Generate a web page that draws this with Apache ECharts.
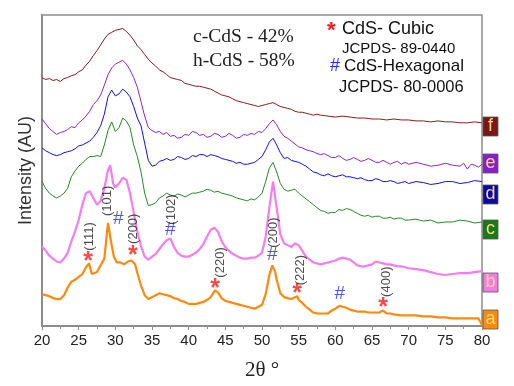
<!DOCTYPE html>
<html><head><meta charset="utf-8">
<script src="https://cdn.jsdelivr.net/npm/echarts@6/dist/echarts.min.js"></script>
<style>html,body{margin:0;padding:0;background:#fff}#c{width:514px;height:386px}</style>
</head><body><div id="c"></div>
<script>
// 2θ (degrees) and stacked intensity (arbitrary units, offset per sample)
const seriesNames = ['a','b','c','d','e','f'];
const seriesColors = ['#ff8a0a','#f77cf2','#268a26','#1010e6','#9022d6','#8a1c1c'];
const xTicks = [20,25,30,35,40,45,50,55,60,65,70,75,80];

const sampleF = [[20,258],[20.5,256],[21,257],[21.5,255],[22,256],[22.5,254],[23,257],[23.5,258],[24,260],[24.5,261],[25,264],[25.5,266],[26,271],[26.5,275],[27,281],[27.5,286],[28,292],[28.5,298],[29,303],[29.5,305],[30,307],[30.5,308],[31,309],[31.5,306],[32,302],[32.5,297],[33,291],[33.5,287],[34,282],[34.5,277],[35,273],[35.5,270],[36,266],[36.5,264],[37,261],[37.5,258],[38,257],[38.5,256],[39,255],[39.5,252],[40,251],[40.5,250],[41,249],[41.5,249],[42,248],[42.5,247],[43,246],[43.5,244],[44,242],[44.5,240],[45,239],[45.5,238],[46,236],[46.5,234],[47,233],[47.5,232],[48,231],[48.5,230],[49,229],[49.5,228],[50,229],[50.5,230],[51,231],[51.5,232],[52,230],[52.5,228],[53,227],[53.5,226],[54,225],[54.5,223],[55,222],[55.5,222],[56,221],[56.5,220],[57,219],[57.5,220],[58,219],[59,218],[60,217],[61,218],[62,217],[63,216],[64,216],[65,215],[66,215],[67,214],[68,215],[69,214],[70,214],[71,213],[72,213],[73,212],[74,213],[75,212],[76,212],[77,211],[78,211],[79,212],[80,211]];
const sampleE = [[20,215],[20.5,210],[21,205],[21.5,202],[22,199],[22.5,201],[23,202],[23.5,204],[24,207],[24.5,206],[25,211],[25.5,214],[26,218],[26.5,223],[27,230],[27.5,234],[28,240],[28.5,250],[29,261],[29.5,268],[30,272],[30.5,274],[31,276],[31.5,272],[32,266],[32.5,258],[33,248],[33.5,233],[34,218],[34.5,206],[35,203],[35.5,201],[36,202],[36.5,199],[37,201],[37.5,197],[38,198],[38.5,195],[39,196],[39.5,199],[40,198],[40.5,202],[41,201],[41.5,198],[42,199],[42.5,196],[43,197],[43.5,200],[44,199],[44.5,196],[45,197],[45.5,200],[46,198],[46.5,195],[47,196],[47.5,199],[48,198],[48.5,200],[49,199],[49.5,202],[50,201],[50.5,205],[51,210],[51.5,214],[52,209],[52.5,202],[53,197],[53.5,195],[54,192],[54.5,189],[55,186],[55.5,185],[56,183],[56.5,182],[57,181],[57.5,179],[58,178],[58.5,179],[59,177],[59.5,175],[60,175],[60.5,177],[61,174],[61.5,172],[62,173],[62.5,175],[63,173],[63.5,171],[64,172],[64.5,174],[65,172],[65.5,170],[66,170],[66.5,172],[67,170],[67.5,168],[68,170],[68.5,171],[69,168],[69.5,170],[70,168],[71,170],[72,168],[73,166],[74,167],[75,169],[76,167],[77,166],[77.5,169],[78,163],[78.5,168],[79,167],[79.5,165],[80,168]];
const sampleD = [[20,185],[20.5,182],[21,180],[21.5,178],[22,177],[22.5,178],[23,180],[23.5,181],[24,182],[24.5,184],[25,187],[25.5,188],[26,190],[26.5,192],[27,196],[27.5,201],[28,208],[28.5,220],[29,238],[29.5,245],[30,239],[30.5,241],[31,246],[31.5,243],[32,238],[32.5,228],[33,216],[33.5,208],[34,190],[34.5,172],[35,166],[35.5,167],[36,171],[36.5,172],[37,174],[37.5,172],[38,173],[38.5,176],[39,175],[39.5,173],[40,174],[40.5,177],[41,176],[41.5,178],[42,178],[42.5,176],[43,178],[43.5,177],[44,176],[44.5,174],[45,173],[45.5,172],[46,171],[46.5,169],[47,170],[47.5,168],[48,168],[48.5,169],[49,170],[49.5,173],[50,176],[50.5,183],[51,191],[51.5,195],[52,188],[52.5,180],[53,174],[53.5,175],[54,172],[54.5,171],[55,170],[55.5,168],[56,166],[56.5,163],[57,160],[57.5,159],[58,157],[58.5,156],[59,158],[59.5,156],[60,155],[60.5,156],[61,157],[61.5,155],[62,155],[62.5,154],[63,153],[63.5,154],[64,152],[64.5,151],[65,151],[65.5,153],[66,152],[66.5,150],[67,150],[67.5,151],[68,150],[68.5,148],[69,149],[69.5,150],[70,148],[71,150],[72,149],[73,147],[74,148],[75,150],[76,150],[77,148],[78,149],[79,151],[80,150]];
const sampleC = [[20,150],[20.5,143],[21,138],[21.5,135],[22,133],[22.5,135],[23,138],[23.5,143],[24,155],[24.5,161],[25,166],[25.5,169],[26,173],[26.5,176],[27,176],[27.5,177],[28,176],[28.5,188],[29,203],[29.5,212],[30,202],[30.5,206],[31,216],[31.5,213],[32,206],[32.5,188],[33,176],[33.5,160],[34,138],[34.5,125],[35,126],[35.5,128],[36,133],[36.5,135],[37,138],[37.5,136],[38,135],[38.5,137],[39,136],[39.5,134],[40,136],[40.5,138],[41,138],[41.5,139],[42,140],[42.5,142],[43,141],[43.5,139],[44,140],[44.5,138],[45,137],[45.5,136],[46,135],[46.5,133],[47,132],[47.5,131],[48,130],[48.5,132],[49,131],[49.5,134],[50,138],[50.5,150],[51,164],[51.5,170],[52,160],[52.5,148],[53,142],[53.5,140],[54,141],[54.5,142],[55,138],[55.5,135],[56,132],[56.5,129],[57,126],[57.5,123],[58,120],[58.5,119],[59,117],[59.5,118],[60,118],[60.5,121],[61,120],[61.5,122],[62,121],[62.5,119],[63,117],[63.5,115],[64,114],[64.5,115],[65,113],[65.5,114],[66,114],[66.5,112],[67,112],[67.5,113],[68,111],[68.5,112],[69,112],[69.5,110],[70,110],[71,111],[72,109],[73,110],[74,107],[75,108],[76,108],[77,110],[78,109],[79,107],[80,108]];
const sampleB = [[20,83],[20.5,78],[21,73],[21.5,70],[22,67],[22.5,66],[23,70],[23.5,76],[24,88],[24.5,98],[25,110],[25.5,126],[26,138],[26.5,140],[27,133],[27.5,126],[28,130],[28.5,143],[29,162],[29.3,167],[29.7,148],[30,144],[30.5,148],[31,154],[31.5,152],[32,138],[32.5,118],[33,98],[33.5,83],[34,72],[34.5,69],[35,72],[35.5,75],[36,80],[36.5,85],[37,89],[37.5,91],[38,82],[38.5,76],[39,73],[39.5,72],[40,72],[40.5,74],[41,76],[41.5,80],[42,85],[42.5,93],[43,100],[43.5,102],[44,98],[44.5,88],[45,82],[45.5,78],[46,75],[46.5,73],[47,71],[47.5,70],[48,70],[48.5,71],[49,71],[49.5,73],[50,76],[50.5,93],[51,123],[51.5,150],[52,123],[52.5,95],[53,86],[53.5,84],[54,82],[54.5,86],[55,84],[55.5,78],[56,72],[56.5,69],[57,66],[57.5,65],[58,64],[58.5,65],[59,66],[59.5,67],[60,68],[60.5,70],[61,71],[61.5,70],[62,69],[62.5,66],[63,63],[63.5,62],[64,62],[64.5,63],[65,64],[65.5,67],[66,66],[66.5,65],[67,64],[67.5,64],[68,63],[68.5,62],[69,62],[69.5,61],[70,60],[71,59],[72,58],[73,56],[74,54],[75,53],[76,54],[77,55],[78,55],[79,56],[80,57]];
const sampleA = [[20,33],[20.5,32],[21,31],[21.5,29],[22,28],[22.5,28],[23,32],[23.5,40],[24,46],[24.5,48],[25,51],[25.5,54],[26,61],[26.4,65],[26.8,54],[27,52],[27.5,56],[28,63],[28.5,70],[29,107],[29.4,88],[29.8,72],[30.2,66],[30.7,66],[31.2,64],[31.7,67],[32.2,68],[32.7,64],[33,55],[33.5,42],[34,32],[34.5,28],[35,30],[35.5,32],[36,34],[36.5,33],[37,32],[37.5,31],[38,29],[38.5,28],[39,26],[39.5,25],[40,23],[40.5,23],[41,23],[41.5,24],[42,25],[42.5,27],[43,30],[43.6,37],[44,35],[44.5,29],[45,26],[45.5,25],[46,24],[46.5,23],[47,22],[47.5,21],[48,20],[48.5,19],[49,18],[49.5,20],[50,22],[50.5,33],[51,53],[51.4,63],[51.8,56],[52,48],[52.5,34],[53,30],[53.5,29],[54,28],[54.8,31],[55,27],[55.5,24],[56,20],[56.5,17],[57,14],[57.5,13],[58,13],[58.5,13],[59,13],[59.5,16],[60,18],[60.6,21],[61,20],[61.5,19],[62,17],[62.5,16],[63,15],[63.5,15],[64,15],[64.5,14],[65,14],[65.5,14],[66,14],[66.5,16],[67,13],[67.5,13],[68,12],[69,11],[70,11],[71,11],[72,10],[73,10],[74,9],[75,9],[76,8],[77,8],[78,8],[79,8],[79.5,8],[80,1]];
const curveData = [sampleA, sampleB, sampleC, sampleD, sampleE, sampleF];

// peak markers: [2θ, intensity]
const cubicMarks = [[26.3,74],[32.4,80],[43.6,46],[54.8,40],[66.5,26]];
const hexMarks = [[30.4,111],[37.5,100],[51.4,74],[60.6,33]];
const millerLabels = [[26.4,93,'(111)'],[28.9,130,'(101)'],[32.5,101,'(200)'],[37.6,121,'(102)'],[44.3,66,'(220)'],[51.5,97,'(200)'],[55.2,58,'(222)'],[67.0,46,'(400)']];

const chart = echarts.init(document.getElementById('c'), null, {renderer:'canvas'});
const sans = 'Liberation Sans, Arial, sans-serif';
const serif = 'Liberation Serif, Times New Roman, serif';

const series = [];
curveData.forEach((d, i) => {
  series.push({
    type:'line', name: seriesNames[i], data: d, showSymbol:false, symbol:'none',
    lineStyle:{color: seriesColors[i], width: i < 2 ? 2.2 : 1},
    z: 2 + (i < 2 ? 1 : 0), silent:true
  });
});
function textScatter(data, text, color, size, rotate, offset, weight) {
  return {
    type:'scatter', data: data.map(p => [p[0], p[1], p[2]]), symbolSize:1,
    itemStyle:{color:'rgba(0,0,0,0)'}, z:10, silent:true,
    label:{show:true, position:'inside', formatter: text || (p => p.data[2]), color: color,
      fontSize: size, fontFamily: sans, fontWeight: weight || 'normal', rotate: rotate || 0, offset: offset || [0,0]}
  };
}
series.push(textScatter(cubicMarks, '*', '#ff1a1a', 25, 0, [0,7], 'bold'));
series.push(textScatter(hexMarks, '#', '#1f2fe0', 19, 0, [0,0]));
series.push(textScatter(millerLabels, null, '#222', 13, 90, [0,0]));

const boxes = [
  ['f', 117, '#7e1515'], ['e', 154, '#8a1ecf'], ['d', 185, '#0a0aa8'],
  ['c', 220, '#197a19'], ['b', 273, '#f07ce8'], ['a', 310, '#ff8a0a']
];
const graphic = [];
boxes.forEach(b => {
  graphic.push({type:'rect', shape:{x:483, y:b[1], width:15, height:19}, style:{fill:b[2], stroke:'#555', lineWidth:0.8}});
  graphic.push({type:'text', x:490.5, y:b[1]+9.5, style:{text:b[0], fill:'#ffd98a', font:'18px ' + sans, textAlign:'center', textVerticalAlign:'middle'}});
});
graphic.push({type:'text', x:193, y:37, style:{text:'c-CdS - 42%', fill:'#222', font:'19.5px ' + serif, textVerticalAlign:'middle'}});
graphic.push({type:'text', x:193, y:61, style:{text:'h-CdS - 58%', fill:'#222', font:'19.5px ' + serif, textVerticalAlign:'middle'}});
graphic.push({type:'text', x:327, y:31, style:{text:'*', fill:'#ff1a1a', font:'bold 22px ' + sans, textVerticalAlign:'middle'}});
graphic.push({type:'text', x:342, y:29, style:{text:'CdS- Cubic', fill:'#111', font:'18px ' + sans, textVerticalAlign:'middle'}});
graphic.push({type:'text', x:342, y:49, style:{text:'JCPDS- 89-0440', fill:'#111', font:'15px ' + sans, textVerticalAlign:'middle'}});
graphic.push({type:'text', x:330, y:66, style:{text:'#', fill:'#1f2fe0', font:'18px ' + sans, textVerticalAlign:'middle'}});
graphic.push({type:'text', x:344, y:66, style:{text:'CdS-Hexagonal', fill:'#111', font:'17px ' + sans, textVerticalAlign:'middle'}});
graphic.push({type:'text', x:339, y:87, style:{text:'JCPDS- 80-0006', fill:'#111', font:'16.5px ' + sans, textVerticalAlign:'middle'}});

chart.setOption({
  animation:false,
  backgroundColor:'#fff',
  grid:{left:42, right:32, top:15, bottom:48, show:true, borderColor:'#8c8c8c', borderWidth:1.5, containLabel:false},
  xAxis:{type:'value', min:20, max:80, interval:5,
    name:'2θ °', nameLocation:'middle', nameGap:34,
    nameTextStyle:{fontSize:21, fontFamily:serif, color:'#222'},
    axisLine:{lineStyle:{color:'#8c8c8c', width:2}},
    axisTick:{show:true, length:4, lineStyle:{color:'#8c8c8c'}},
    minorTick:{show:true, splitNumber:2, length:3, lineStyle:{color:'#8c8c8c'}},
    axisLabel:{fontSize:15, color:'#222', fontFamily:sans, margin:7, formatter: v => xTicks.includes(v) ? String(v) : ''},
    splitLine:{show:false}},
  yAxis:{type:'value', min:0, max:323,
    name:'Intensity (AU)', nameLocation:'middle', nameGap:7,
    nameTextStyle:{fontSize:18, fontFamily:sans, color:'#333'},
    axisLine:{show:true, lineStyle:{color:'#8c8c8c', width:2}},
    axisTick:{show:false}, axisLabel:{show:false}, splitLine:{show:false}},
  series: series,
  graphic: graphic
});
</script></body></html>
